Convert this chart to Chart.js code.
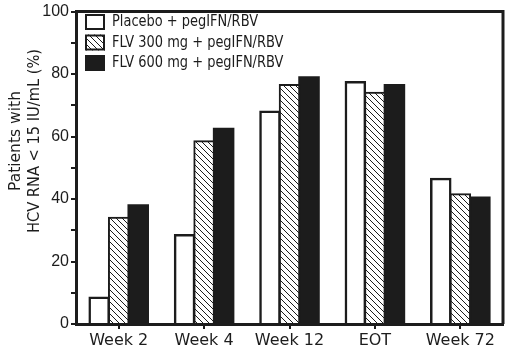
<!DOCTYPE html>
<html>
<head>
<meta charset="utf-8">
<script src="https://cdn.jsdelivr.net/npm/chart.js@4.4.1/dist/chart.umd.min.js"></script>
<style>
  html, body { margin: 0; padding: 0; background: #fff; }
  #wrap { width: 506px; height: 353px; position: relative; }
</style>
</head>
<body>
<div id="wrap"><canvas id="chart"></canvas></div>
<script>
// --- datos ---
const categories = ['Week 2', 'Week 4', 'Week 12', 'EOT', 'Week 72'];
const seriesNames = ['Placebo + pegIFN/RBV', 'FLV 300 mg + pegIFN/RBV', 'FLV 600 mg + pegIFN/RBV'];
const placebo = [8.5, 28.5, 68, 77.5, 46.5];
const flv300 = [34, 58.5, 76.5, 74, 41.5];
const flv600 = [38, 62.5, 79, 76.5, 40.5];
const yTitle = ['Patients with', 'HCV RNA < 15 IU/mL (%)'];

const INK = '#1c1c1c';
const FONT = '"DejaVu Sans", sans-serif';

// trama diagonal para la serie de 300 mg
function stripes() {
    const c = document.createElement('canvas');
    c.width = 6; c.height = 6;
    const g = c.getContext('2d');
    g.fillStyle = '#fff';
    g.fillRect(0, 0, 6, 6);
    g.strokeStyle = INK;
    g.lineWidth = 1;
    g.beginPath();
    g.moveTo(-1, -1); g.lineTo(7, 7);
    g.moveTo(-1, 5); g.lineTo(1, 7);
    g.moveTo(5, -1); g.lineTo(7, 1);
    g.stroke();
    return g.createPattern(c, 'repeat');
}
const stripeFill = stripes();

// marco superior/derecho + leyenda + título del eje y
const extras = {
    id: 'extras',
    afterDraw(chart) {
        const ctx = chart.ctx;
        const a = chart.chartArea;
        ctx.save();
        ctx.strokeStyle = INK;
        ctx.lineWidth = 3;
        ctx.beginPath();
        ctx.moveTo(a.left, a.top);
        ctx.lineTo(a.right, a.top);
        ctx.lineTo(a.right, a.bottom);
        ctx.stroke();

        // leyenda (texto algo condensado, como el original)
        ctx.font = '15px ' + FONT;
        ctx.textBaseline = 'middle';
        ctx.textAlign = 'left';
        chart.data.datasets.forEach((ds, i) => {
            const y = 14 + i * 20.5;
            ctx.fillStyle = ds.backgroundColor;
            ctx.fillRect(85, y, 20, 16);
            ctx.strokeStyle = INK;
            ctx.lineWidth = 2;
            ctx.strokeRect(86, y + 1, 18, 14);
            ctx.fillStyle = INK;
            const w = ctx.measureText(ds.label).width * 0.865;
            ctx.fillText(ds.label, 112, y + 8.5, w);
        });

        // título eje y
        ctx.translate(0, 141);
        ctx.rotate(-Math.PI / 2);
        ctx.font = '16px ' + FONT;
        ctx.textAlign = 'center';
        ctx.textBaseline = 'middle';
        ctx.fillText(yTitle[0], 0, 16, 100);
        ctx.fillText(yTitle[1], 0, 35, 184);
        ctx.restore();
    }
};

const ctx = document.getElementById('chart').getContext('2d');
new Chart(ctx, {
    type: 'bar',
    data: {
        labels: categories,
        datasets: [
            { label: seriesNames[0], data: placebo, backgroundColor: '#fff', borderColor: INK, borderWidth: 2.5 },
            { label: seriesNames[1], data: flv300, backgroundColor: stripeFill, borderColor: INK, borderWidth: 2 },
            { label: seriesNames[2], data: flv600, backgroundColor: INK, borderColor: INK, borderWidth: 0 }
        ]
    },
    options: {
        responsive: true,
        maintainAspectRatio: false,
        animation: false,
        layout: { padding: { top: 7, right: 3, left: 0, bottom: 0 } },
        datasets: { bar: { categoryPercentage: 0.686, barPercentage: 1, inflateAmount: 1 } },
        scales: {
            x: {
                grid: { drawOnChartArea: false, offset: false, tickLength: 5, color: INK, lineWidth: 2 },
                border: { color: INK, width: 3 },
                ticks: { color: INK, font: { family: FONT, size: 16 }, padding: 2 },
                afterFit: (s) => { s.height = 29; }
            },
            y: {
                min: 0, max: 100,
                grid: { drawOnChartArea: false, tickLength: 5, color: INK, lineWidth: 2 },
                border: { color: INK, width: 3 },
                ticks: {
                    stepSize: 10,
                    color: INK,
                    font: { family: '"Liberation Sans", sans-serif', size: 16 },
                    padding: 2,
                    callback: (v) => (v % 20 === 0 ? v : '')
                },
                afterFit: (s) => { s.width = 76; }
            }
        },
        plugins: {
            legend: { display: false },
            tooltip: { enabled: false }
        }
    },
    plugins: [extras]
});
</script>
</body>
</html>
